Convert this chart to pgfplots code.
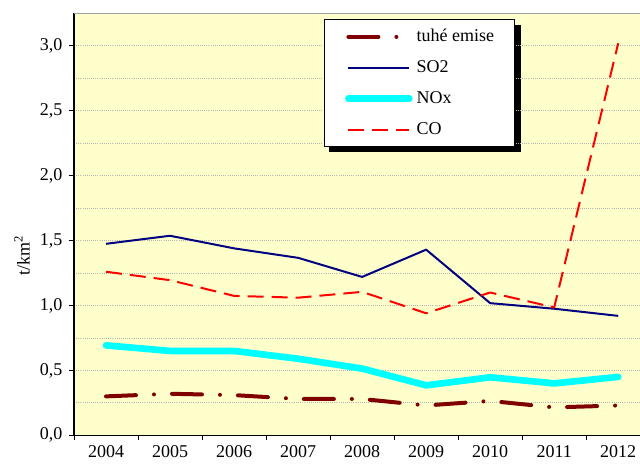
\documentclass[border=0pt]{standalone}
\usepackage{pgfplots}
\pgfplotsset{compat=1.18}
\usepackage{fontspec}
\setmainfont{Liberation Serif}
\usetikzlibrary{backgrounds}
\definecolor{bgyellow}{HTML}{FFFFCC}
\definecolor{tuhe}{HTML}{800000}
\definecolor{sotwo}{HTML}{000080}
\definecolor{nox}{HTML}{00FFFF}
\definecolor{co}{HTML}{FF0000}
\definecolor{gridgray}{HTML}{B4B4B4}
\definecolor{topgray}{HTML}{A0A0A0}
\begin{document}
\begin{tikzpicture}[font=\fontsize{13.5}{16}\selectfont]
\begin{axis}[
  name=ax,
  scale only axis,
  width=424.5pt, height=316.5pt,
  xmin=-0.5, xmax=8.34,
  ymin=0, ymax=3.25,
  axis x line*=bottom, axis y line*=left,
  axis line style={black, line width=1.1pt},
  tick align=outside,
  major tick length=3.75pt, minor tick length=3.75pt,
  xtick={0,1,2,3,4,5,6,7,8},
  xticklabels={2004,2005,2006,2007,2008,2009,2010,2011,2012},
  minor xtick={-0.5,0.5,1.5,2.5,3.5,4.5,5.5,6.5,7.5},
  major x tick style={draw=none},
  minor x tick style={black, line width=0.6pt},
  ytick={0,0.5,1,1.5,2,2.5,3},
  minor ytick={0.25,0.75,1.25,1.75,2.25,2.75,3.25},
  major y tick style={black, line width=0.6pt},
  minor y tick style={draw=none},
  ymajorgrids, yminorgrids,
  major grid style={gridgray, line width=0.6pt, densely dotted},
  minor grid style={gridgray, line width=0.6pt, densely dotted},
  /pgf/number format/assume math mode=true,
  yticklabel style={xshift=-1.5pt, /pgf/number format/.cd, fixed, fixed zerofill, precision=1, use comma},
  ylabel={t/km\textsuperscript{2}},
  ylabel style={at={(rel axis cs:0,0.427)}, anchor=center, yshift=39pt},
  legend image code/.code={\draw[#1] (0pt,0pt) -- (45.75pt,0pt);},
  legend cell align=left,
  legend style={name=leg, at={(0.4417,0.9858)}, anchor=north west,
    draw=black, line width=0.6pt, fill=white,
    inner xsep=15.5pt, inner ysep=6.5pt, row sep=10.75pt,
    nodes={inner sep=0pt, text height=9.5pt, text depth=3pt},
    /tikz/every odd column/.append style={column sep=3pt}},
  clip=true,
]
\addplot[tuhe, line width=3pt, line cap=round, line join=round,
  dash pattern=on 22.5pt off 13.5pt on 0.01pt off 13.5pt]
  coordinates {(0,0.30) (1,0.32) (2,0.31) (3,0.28) (4,0.28) (5,0.23) (6,0.265) (7,0.215) (8,0.23)};
\addlegendentry{tuhé emise}
\addplot[sotwo, line width=1.5pt, line join=round]
  coordinates {(0,1.475) (1,1.537) (2,1.44) (3,1.367) (4,1.22) (5,1.43) (6,1.018) (7,0.975) (8,0.92)};
\addlegendentry{SO2}
\addplot[nox, line width=5pt, line cap=round, line join=round]
  coordinates {(0,0.693) (1,0.65) (2,0.65) (3,0.59) (4,0.514) (5,0.385) (6,0.447) (7,0.40) (8,0.45)};
\addlegendentry{NOx}
\addplot[co, line width=1.5pt, line join=round, dash pattern=on 12pt off 6pt]
  coordinates {(0,1.26) (1,1.195) (2,1.074) (3,1.06) (4,1.105) (5,0.94) (6,1.10) (7,0.985) (8,3.02)};
\addlegendentry{CO}
\coordinate (ll) at (rel axis cs:0,0);
\coordinate (ur) at (rel axis cs:1,1);
\draw[topgray, line width=1.5pt] (rel axis cs:0,1) -- (rel axis cs:1,1);
\end{axis}
\begin{pgfonlayer}{background}
  \fill[bgyellow] (ll) rectangle (ur);
  \fill[black] ([shift={(4pt,-4pt)}]leg.south west) rectangle ([shift={(4pt,-4pt)}]leg.north east);
\end{pgfonlayer}
\pgfresetboundingbox
\useasboundingbox ([shift={(-55.5pt,-22.5pt)}]ll) rectangle ([shift={(0pt,10pt)}]ur);
\end{tikzpicture}
\end{document}
